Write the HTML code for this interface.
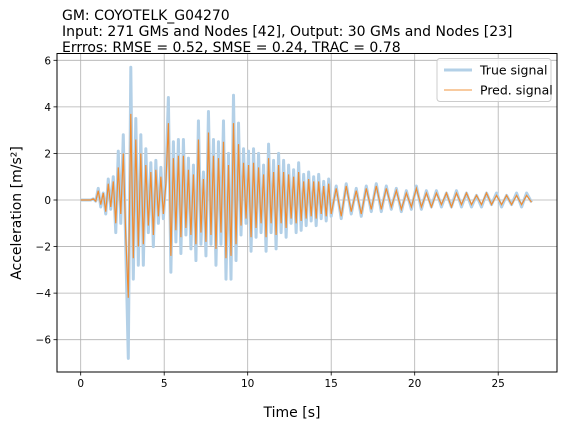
<!DOCTYPE html>
<html><head><meta charset="utf-8"><style>
body{margin:0;background:#fff;font-family:"Liberation Sans","DejaVu Sans",sans-serif}
svg text{font-family:"DejaVu Sans","Liberation Sans",sans-serif}
</style></head><body>
<svg id="chart" width="566" height="425" viewBox="0 0 566 425" xmlns="http://www.w3.org/2000/svg">
<g font-size="14" fill="#000">
<text x="62" y="20">GM: COYOTELK_G04270</text>
<text x="62" y="36">Input: 271 GMs and Nodes [42], Output: 30 GMs and Nodes [23]</text>
<text x="62" y="52">Errros: RMSE = 0.52, SMSE = 0.24, TRAC = 0.78</text>
</g>
<g id="grid"></g>
<g id="series"></g>
<rect x="57" y="53.5" width="500" height="318.5" fill="none" stroke="#000" stroke-width="1"/>
<g id="ticks" font-size="10.5"></g>
<text x="292" y="417" font-size="14" text-anchor="middle">Time [s]</text>
<text transform="translate(21,213) rotate(-90)" font-size="14" text-anchor="middle">Acceleration [m/s²]</text>
<g>
<rect x="437" y="58.5" width="114" height="43" rx="3" fill="#fff" fill-opacity="0.8" stroke="#ccc"/>
<line x1="444" y1="70" x2="472" y2="70" stroke="#b3d0e7" stroke-width="3"/>
<text x="480" y="74.5" font-size="12.5">True signal</text>
<line x1="444" y1="90" x2="472" y2="90" stroke="#f0953f" stroke-width="1"/>
<text x="480" y="94.5" font-size="12.5">Pred. signal</text>
</g>
</svg>
<script>
const xTicks=[0,5,10,15,20,25];
const yTicks=[-6,-4,-2,0,2,4,6];
const headDt=0.15, tailStart=15, tailDt=0.3;
const trueHead=[0,0,0,0,0,0.05,-0.05,0.5,-0.3,0.3,-0.6,0.9,-0.4,
1.0,-1.4,2.1,-1.0,2.8,-2.1,-6.8,5.7,-3.4,3.5,-2.8,2.8,-2.8,2.2,-1.4,1.6,-2.0,1.7,-1.0,1.4,-0.8,0.9,4.4,
-3.1,2.5,-1.8,2.6,-2.3,2.6,-1.5,1.8,-2.1,1.5,-2.6,3.4,-1.9,1.2,-2.4,3.8,-1.9,2.6,-2.8,2.5,-1.9,3.4,-3.4,2.0,-3.4,4.5,-2.6,3.3,-1.5,2.2,-1.0,
2.1,-2.2,2.2,-1.6,2.0,-1.4,1.5,-2.2,2.4,-1.4,1.7,-2.1,2.0,-1.4,1.7,-1.6,1.5,-1.0,1.3,-1.4,1.6,-1.3,1.1,-1.1,1.2,-0.9,1.0,-1.1,1.1,-0.8,0.8,-0.9,0.9];
const trueTail=[-0.7,0.6,-0.8,0.7,-0.6,0.5,-0.7,0.6,-0.5,0.7,-0.5,0.6,-0.4,0.5,-0.5,0.4,-0.4,0.6,-0.4,0.4,-0.3,0.4,-0.3,0.3,-0.3,0.4,-0.3,0.3,-0.3,0.2,-0.3,0.3,-0.2,0.3,-0.3,0.2,-0.2,0.3,-0.3,0.3,-0.1];
const predHead=[0,0,0,0,0,0.05,-0.05,0.4,-0.2,0.3,-0.5,0.7,-0.3,
0.8,-1.0,1.4,-0.6,2.0,-1.6,-4.2,3.7,-2.5,2.6,-2.0,2.0,-1.9,1.5,-1.1,1.2,-1.5,1.3,-0.7,1.0,-0.6,0.7,3.3,
-2.4,1.8,-1.3,1.9,-1.6,1.9,-1.2,1.3,-1.5,1.1,-1.9,2.6,-1.4,0.9,-1.8,2.9,-1.5,1.9,-2.1,1.8,-1.4,2.5,-2.5,1.5,-2.4,3.3,-1.9,2.4,-1.1,1.6,-0.8,
1.5,-1.6,1.6,-1.2,1.4,-1.0,1.1,-1.6,1.8,-1.0,1.2,-1.5,1.5,-1.0,1.2,-1.2,1.1,-0.8,1.0,-1.0,1.2,-0.9,0.8,-0.8,0.9,-0.7,0.8,-0.8,0.8,-0.6,0.6,-0.7,0.7];
const predTail=[-0.6,0.5,-0.7,0.6,-0.5,0.4,-0.6,0.5,-0.4,0.6,-0.4,0.5,-0.3,0.4,-0.4,0.3,-0.3,0.5,-0.3,0.3,-0.3,0.3,-0.2,0.3,-0.3,0.3,-0.2,0.3,-0.2,0.2,-0.2,0.3,-0.2,0.2,-0.2,0.2,-0.2,0.2,-0.2,0.2,-0.1];

const NS='http://www.w3.org/2000/svg';
const X0=57,X1=557,Y0=53.5,Y1=372;
function xs(t){return 80.7+t*(247.7-80.7)/10;}
function ys(v){return 200-v*(200-60.3)/6;}
function mk(tag,attrs,parent){const e=document.createElementNS(NS,tag);for(const k in attrs)e.setAttribute(k,attrs[k]);parent.appendChild(e);return e;}
const grid=document.getElementById('grid'),ticks=document.getElementById('ticks'),series=document.getElementById('series');
xTicks.forEach(t=>{
  const g=mk('line',{x1:xs(t),x2:xs(t),y1:Y0,y2:Y1,stroke:'#b0b0b0','stroke-width':0.8},grid);
  
  
  mk('line',{x1:xs(t),x2:xs(t),y1:Y1,y2:Y1+3.5,stroke:'#000','stroke-width':0.8},ticks);
  const l=mk('text',{x:xs(t),y:Y1+15,'text-anchor':'middle'},ticks);
  l.textContent=t;
  
  
});
yTicks.forEach(v=>{
  const g=mk('line',{x1:X0,x2:X1,y1:ys(v),y2:ys(v),stroke:'#b0b0b0','stroke-width':0.8},grid);
  
  
  mk('line',{x1:X0-3.5,x2:X0,y1:ys(v),y2:ys(v),stroke:'#000','stroke-width':0.8},ticks);
  const l=mk('text',{x:X0-6,y:ys(v)+4,'text-anchor':'end'},ticks);
  l.textContent=v<0?'\u2212'+(-v):v;
  
  
});
function pts(head,tail){
  const p=head.map((v,i)=>xs(i*headDt)+','+ys(v));
  tail.forEach((v,i)=>p.push(xs(tailStart+i*tailDt)+','+ys(v)));
  return p.join(' ');
}
const tl=mk('polyline',{points:pts(trueHead,trueTail),fill:'none',stroke:'#b3d0e7','stroke-width':3,'stroke-linejoin':'round'},series);


const pl=mk('polyline',{points:pts(predHead,predTail),fill:'none',stroke:'#ef8c32','stroke-width':1.2},series);


</script>
</body></html>
